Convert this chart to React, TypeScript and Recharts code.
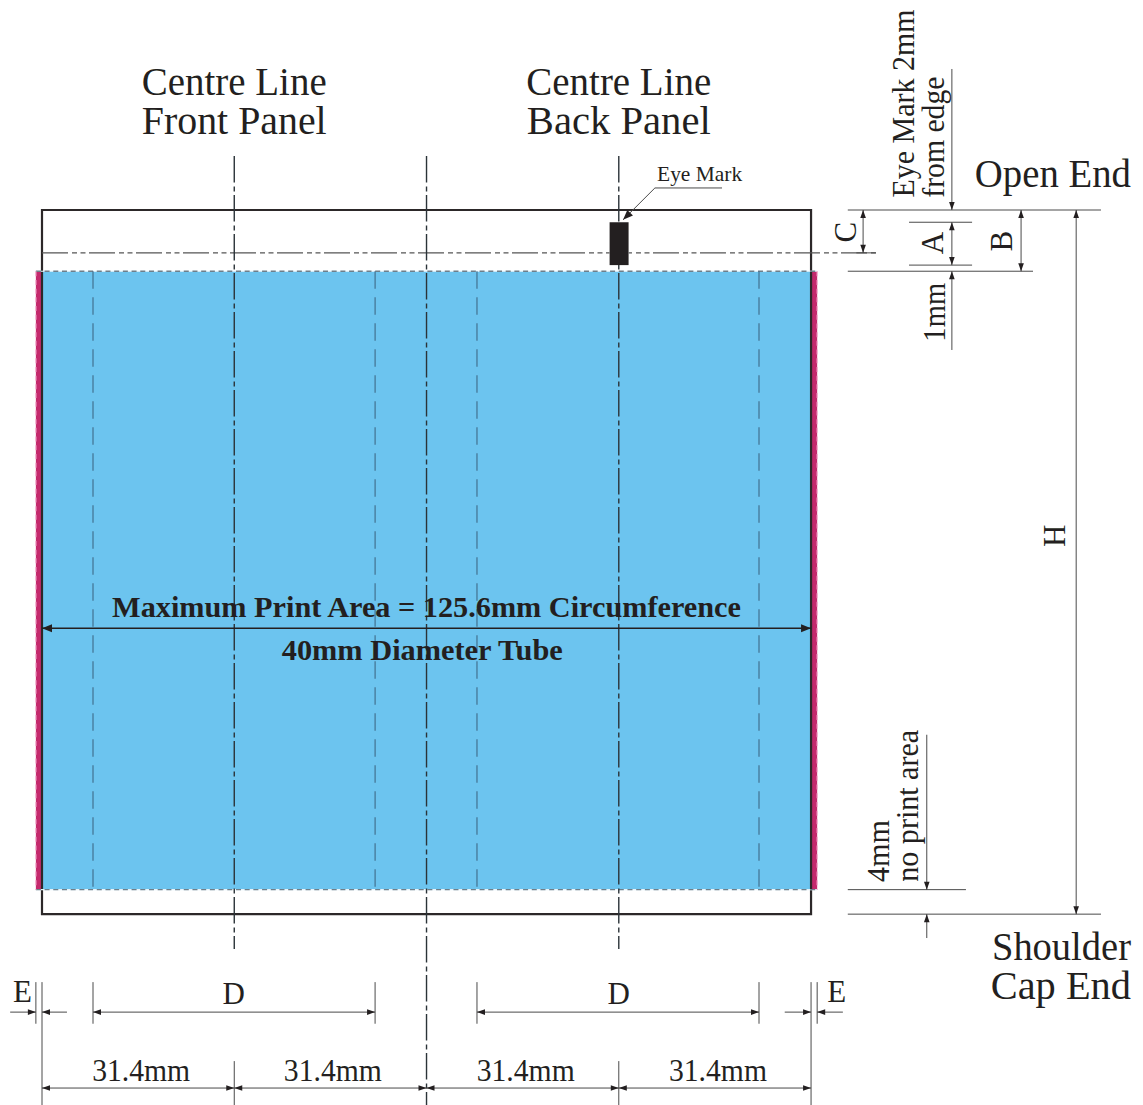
import React from "react";
import { ScatterChart, Scatter, XAxis, YAxis, ReferenceLine, ReferenceArea } from "recharts";

// All drawing values are millimetres on the tube's artwork.
const WIDTH = 1143;
const HEIGHT = 1105;
const PX_PER_MM = 6.123;
const xDomain = [-42 / PX_PER_MM, (WIDTH - 42) / PX_PER_MM];
const yDomain = [-210 / PX_PER_MM, (HEIGHT - 210) / PX_PER_MM];

const INK = "#231f20";

const circumference = 125.6;
const tubeHeight = 115;
const printTop = 10;
const printBottom = 111;
const edgeBleed = 1;
const eyeMarkX = [92.7, 95.8];
const eyeMarkY = [2, 9];

// [x1, y1, x2, y2]; the lines stop at the eye mark, which hides them
const centreLines = [
  [31.4, -8.8, 31.4, 120.7],
  [62.8, -8.8, 62.8, 146.2],
  [94.2, -8.8, 94.2, 2],
];
const centreLineBelowMark = [94.2, 9, 94.2, 120.7];
const foldLines = [8.33, 54.4, 71.04, 117.1];
const eyeLineLeft = [0, 7, 92.7, 7];
const eyeLineRight = [95.8, 7, 136.2, 7];
const printEdges = [
  [-1, 10, 126.6, 10],
  [-1, 111, 126.6, 111],
];
const bleedEdges = [
  [-1, 10, -1, 111],
  [126.6, 10, 126.6, 111],
];
const dimensionLines = [
  // right-hand extension lines
  [131.6, 0, 172.95, 0],
  [141.6, 2, 151.9, 2],
  [141.6, 9, 151.9, 9],
  [131.6, 10, 161.85, 10],
  [131.6, 111, 150.9, 111],
  [131.6, 115, 172.95, 115],
  [133, 7, 136.2, 7],
  // right-hand dimension shafts
  [134.1, 0, 134.1, 7],
  [148.6, 2, 148.6, 9],
  [159.9, 0, 159.9, 10],
  [168.9, 0, 168.9, 115],
  [148.6, -23.03, 148.6, 0],
  [148.6, 10, 148.6, 22.86],
  [144.5, 85.7, 144.5, 111],
  [144.5, 115, 144.5, 118.9],
  // bottom extension lines
  [-1, 126.1, -1, 132.9],
  [0, 126.1, 0, 146.2],
  [8.33, 126.1, 8.33, 132.9],
  [54.4, 126.1, 54.4, 132.9],
  [71.04, 126.1, 71.04, 132.9],
  [117.1, 126.1, 117.1, 132.9],
  [125.6, 126.1, 125.6, 146.2],
  [126.6, 126.1, 126.6, 132.9],
  [31.4, 139, 31.4, 146.2],
  [94.2, 139, 94.2, 146.2],
  // bottom dimension shafts
  [-5.2, 131, -1, 131],
  [0, 131, 4.08, 131],
  [8.33, 131, 54.4, 131],
  [71.04, 131, 117.1, 131],
  [121.3, 131, 125.6, 131],
  [126.6, 131, 130.8, 131],
  [0, 143.4, 125.6, 143.4],
  // eye mark leader
  [111.06, -3.6, 100.1, -3.6],
  [100.1, -3.6, 94.9, 1.6],
];
const widthArrowLine = [0, 68.3, 125.6, 68.3];

const arrowHeads = [
  { x: 134.1, y: 0, dir: "u" }, { x: 134.1, y: 7, dir: "d" },
  { x: 148.6, y: 2, dir: "u" }, { x: 148.6, y: 9, dir: "d" },
  { x: 159.9, y: 0, dir: "u" }, { x: 159.9, y: 10, dir: "d" },
  { x: 168.9, y: 0, dir: "u" }, { x: 168.9, y: 115, dir: "d" },
  { x: 148.6, y: 0, dir: "d" }, { x: 148.6, y: 10, dir: "u" },
  { x: 144.5, y: 111, dir: "d" }, { x: 144.5, y: 115, dir: "u" },
  { x: -1, y: 131, dir: "r" }, { x: 0, y: 131, dir: "l" },
  { x: 8.33, y: 131, dir: "l" }, { x: 54.4, y: 131, dir: "r" },
  { x: 71.04, y: 131, dir: "l" }, { x: 117.1, y: 131, dir: "r" },
  { x: 125.6, y: 131, dir: "r" }, { x: 126.6, y: 131, dir: "l" },
  { x: 0, y: 143.4, dir: "l" }, { x: 31.4, y: 143.4, dir: "r" },
  { x: 31.4, y: 143.4, dir: "l" }, { x: 62.8, y: 143.4, dir: "r" },
  { x: 62.8, y: 143.4, dir: "l" }, { x: 94.2, y: 143.4, dir: "r" },
  { x: 94.2, y: 143.4, dir: "l" }, { x: 125.6, y: 143.4, dir: "r" },
];
const largeArrowHeads = [
  { x: 0, y: 68.3, dir: "l" }, { x: 125.6, y: 68.3, dir: "r" },
  { x: 94.9, y: 1.6, dir: "dl" },
];

const titleLabels = [
  { text: "Centre Line", x: 31.4, y: -18.8, span: 30.2 },
  { text: "Front Panel", x: 31.4, y: -12.45, span: 30.2 },
  { text: "Centre Line", x: 94.2, y: -18.8, span: 30.2 },
  { text: "Back Panel", x: 94.2, y: -12.45, span: 30.05 },
  { text: "Open End", x: 165.1, y: -3.8, span: 25.5 },
  { text: "Shoulder", x: 166.5, y: 122.5, span: 22.7 },
  { text: "Cap End", x: 166.4, y: 128.9, span: 22.9 },
];
const boldLabels = [
  { text: "Maximum Print Area = 125.6mm Circumference", x: 62.8, y: 66.5, span: 102.7 },
  { text: "40mm Diameter Tube", x: 62.1, y: 73.5, span: 45.9 },
];
const noteLabels = [{ text: "Eye Mark", x: 107.4, y: -4.7, span: 13.9 }];
const dimLabels = [
  { text: "31.4mm", x: 16.2, y: 142.3, span: 16 },
  { text: "31.4mm", x: 47.5, y: 142.3, span: 16 },
  { text: "31.4mm", x: 79.0, y: 142.3, span: 16 },
  { text: "31.4mm", x: 110.4, y: 142.3, span: 16 },
  { text: "D", x: 31.3, y: 129.7 },
  { text: "D", x: 94.2, y: 129.7 },
  { text: "E", x: -3.2, y: 129.4 },
  { text: "E", x: 129.8, y: 129.4 },
];
const verticalLabels = [
  { text: "Eye Mark 2mm", x: 142.4, y: -17.4, span: 30.7 },
  { text: "from edge", x: 147.3, y: -11.9, span: 19.8 },
  { text: "C", x: 132.9, y: 3.6 },
  { text: "A", x: 147.2, y: 5.4 },
  { text: "B", x: 158.4, y: 5.1 },
  { text: "1mm", x: 147.5, y: 16.7, span: 9.6 },
  { text: "4mm", x: 138.3, y: 104.7, span: 10.1 },
  { text: "no print area", x: 143.1, y: 97.3, span: 24.8 },
  { text: "H", x: 167.1, y: 53.2 },
];

const serif = "'Liberation Serif', 'Times New Roman', serif";

const labelShape = (fontSize: number, fontWeight: string | number, vertical: boolean) => (props: any) => {
  const { cx, cy, payload } = props;
  const fit = payload.span ? { textLength: payload.span * PX_PER_MM, lengthAdjust: "spacingAndGlyphs" } : {};
  return (
    <text
      x={cx}
      y={cy}
      textAnchor="middle"
      fontFamily={serif}
      fontSize={fontSize}
      fontWeight={fontWeight}
      fill={INK}
      transform={vertical ? `rotate(-90 ${cx} ${cy})` : undefined}
      {...fit}
    >
      {payload.text}
    </text>
  );
};

const arrowShape = (points: string) => (props: any) => {
  const { cx, cy, payload } = props;
  const rot: Record<string, number> = { u: 0, r: 90, d: 180, l: 270, dl: 225 };
  return (
    <polygon
      points={points}
      fill={INK}
      transform={`translate(${cx} ${cy}) rotate(${rot[payload.dir]})`}
    />
  );
};

const seg = (s: number[]) => [
  { x: s[0], y: s[1] },
  { x: s[2], y: s[3] },
];

const CENTRE_DASH = "26.3 4 5 3.7";
const EYE_DASH = "26 4 5 3.5 5 3.5";

export default function App() {
  return (
    <div style={{ position: "absolute", left: 0, top: 0, width: WIDTH, height: HEIGHT, background: "#fff" }}>
      <ScatterChart width={WIDTH} height={HEIGHT} margin={{ top: 0, right: 0, bottom: 0, left: 0 }}>
        <XAxis type="number" dataKey="x" domain={xDomain} hide allowDataOverflow />
        <YAxis type="number" dataKey="y" domain={yDomain} hide reversed allowDataOverflow />

        <ReferenceArea x1={0} x2={circumference} y1={printTop} y2={printBottom} fill="#6cc4ef" fillOpacity={1} stroke="none" ifOverflow="visible" />
        <ReferenceArea x1={-edgeBleed} x2={0} y1={printTop} y2={printBottom} fill="#c42a6d" fillOpacity={1} stroke="none" ifOverflow="visible" />
        <ReferenceArea x1={circumference} x2={circumference + edgeBleed} y1={printTop} y2={printBottom} fill="#c42a6d" fillOpacity={1} stroke="none" ifOverflow="visible" />
        <ReferenceArea x1={0} x2={circumference} y1={0} y2={tubeHeight} fill="none" fillOpacity={0} stroke="#2c2829" strokeWidth={2.2} ifOverflow="visible" />
        <ReferenceArea x1={eyeMarkX[0]} x2={eyeMarkX[1]} y1={eyeMarkY[0]} y2={eyeMarkY[1]} fill={INK} fillOpacity={1} stroke="none" ifOverflow="visible" />

        {printEdges.map((s, i) => (
          <ReferenceLine key={`pw${i}`} segment={seg(s)} stroke="#e4f4fc" strokeWidth={1.2} ifOverflow="visible" />
        ))}
        {printEdges.map((s, i) => (
          <ReferenceLine key={`pe${i}`} segment={seg(s)} stroke="#6f7f8a" strokeWidth={1.3} strokeDasharray="5 3.7" ifOverflow="visible" />
        ))}
        {bleedEdges.map((s, i) => (
          <ReferenceLine key={`be${i}`} segment={seg(s)} stroke="#f5a8cc" strokeWidth={1.2} strokeDasharray="5 3.7" ifOverflow="visible" />
        ))}
        {foldLines.map((x, i) => (
          <ReferenceLine key={`fl${i}`} segment={seg([x, printTop, x, printBottom])} stroke="#3f6a88" strokeWidth={1.1} strokeDasharray="17.5 8.5" ifOverflow="visible" />
        ))}
        <ReferenceLine segment={seg(eyeLineLeft)} stroke="#555" strokeWidth={1.1} strokeDasharray={EYE_DASH} ifOverflow="visible" />
        <ReferenceLine segment={seg(eyeLineRight)} stroke="#555" strokeWidth={1.1} strokeDasharray={EYE_DASH} strokeDashoffset={22.6} ifOverflow="visible" />
        {centreLines.map((s, i) => (
          <ReferenceLine key={`cl${i}`} segment={seg(s)} stroke="#2b3338" strokeWidth={1.4} strokeDasharray={CENTRE_DASH} ifOverflow="visible" />
        ))}
        <ReferenceLine segment={seg(centreLineBelowMark)} stroke="#2b3338" strokeWidth={1.4} strokeDasharray={CENTRE_DASH} strokeDashoffset={31} ifOverflow="visible" />
        {dimensionLines.map((s, i) => (
          <ReferenceLine key={`dl${i}`} segment={seg(s)} stroke="#4a4a4a" strokeWidth={1} ifOverflow="visible" />
        ))}
        <ReferenceLine segment={seg(widthArrowLine)} stroke={INK} strokeWidth={1.4} ifOverflow="visible" />

        <Scatter data={arrowHeads} shape={arrowShape("0,0 -2.8,8 2.8,8")} isAnimationActive={false} />
        <Scatter data={largeArrowHeads} shape={arrowShape("0,0 -4,10 4,10")} isAnimationActive={false} />
        <Scatter data={titleLabels} shape={labelShape(39, 400, false)} isAnimationActive={false} />
        <Scatter data={boldLabels} shape={labelShape(30, 700, false)} isAnimationActive={false} />
        <Scatter data={noteLabels} shape={labelShape(22, 400, false)} isAnimationActive={false} />
        <Scatter data={dimLabels} shape={labelShape(31, 400, false)} isAnimationActive={false} />
        <Scatter data={verticalLabels} shape={labelShape(31, 400, true)} isAnimationActive={false} />
      </ScatterChart>
    </div>
  );
}
